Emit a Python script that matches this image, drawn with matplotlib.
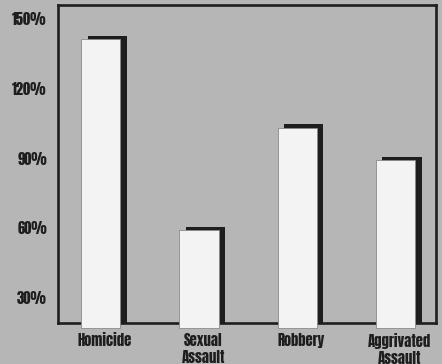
import matplotlib
matplotlib.use("Agg")
import matplotlib.pyplot as plt
import matplotlib.patheffects as pe
import matplotlib.transforms as mtransforms
from matplotlib import font_manager

categories = ["Homicide", "Sexual\nAssault", "Robbery", "Aggrivated\nAssault"]
values = [141, 59, 103, 89]
yticks = [30, 60, 90, 120, 150]
ytick_labels = ["30%", "60%", "90%", "120%", "150%"]

names = {f.name for f in font_manager.fontManager.ttflist}
family = next((f for f in ["Anton", "League Gothic", "Oswald", "Fjalla One",
                           "Roboto Condensed", "DejaVu Sans"] if f in names),
              "DejaVu Sans")

bg = "#b6b6b6"
ink = "#1e1e1e"

fig = plt.figure(figsize=(4.42, 3.64), dpi=100, facecolor=bg)
ax = fig.add_axes([0.131, 0.113, 0.855, 0.873], facecolor=bg)

ymin, ymax = 19.3, 155.6
x = list(range(len(categories)))
bars = ax.bar(x, [v - (ymin - 2) for v in values], bottom=ymin - 2, width=0.40,
              color="#f3f3f3", edgecolor="#8a8a8a", linewidth=0.6,
              zorder=3, clip_on=False)
for b in bars:
    b.set_path_effects([
        pe.SimplePatchShadow(offset=(4.6, 2.4), shadow_rgbFace=ink, alpha=1.0),
        pe.Normal(),
    ])

ax.set_xlim(-0.437, 3.41)
ax.set_ylim(ymin, ymax)
ax.set_yticks(yticks)
ax.set_yticklabels(ytick_labels)
ax.set_xticks(x)
ax.set_xticklabels(categories, linespacing=1.2)
ax.tick_params(length=0, colors=ink)
ax.tick_params(axis="y", pad=8)
ax.tick_params(axis="x", pad=7)

# category names sit a little right of the bar centres
shift = mtransforms.ScaledTranslation(4 / 100, 0, fig.dpi_scale_trans)
for lab in ax.get_xticklabels():
    lab.set_transform(lab.get_transform() + shift)
for lab in ax.get_xticklabels() + ax.get_yticklabels():
    lab.set_fontfamily(family)
    lab.set_fontsize(10.5)
    lab.set_color(ink)
for s in ax.spines.values():
    s.set_linewidth(1.9)
    s.set_color(ink)
    s.set_zorder(2)

fig.savefig("out.png", dpi=100, facecolor=bg)
